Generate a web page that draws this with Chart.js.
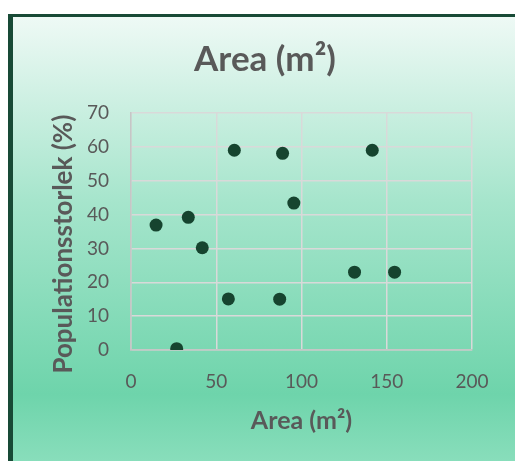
<!DOCTYPE html>
<html>
<head>
<meta charset="utf-8">
<script src="https://cdn.jsdelivr.net/npm/chart.js@4/dist/chart.umd.min.js"></script>
<style>
  html, body { margin: 0; padding: 0; width: 515px; height: 461px; overflow: hidden; background: #ffffff; }
  #frame {
    position: absolute; left: 8px; top: 14px; width: 540px; height: 460px;
    border-left: 5px solid #184a36; border-top: 3px solid #184a36;
    background: linear-gradient(to bottom, #eef9f5 0%, #a6e5cc 40%, #6ed4ab 82%, #8fe0bf 100%);
  }
  #c { position: absolute; left: 0; top: 0; }
</style>
</head>
<body>
<div id="frame"></div>
<canvas id="c" width="530" height="461"></canvas>
<script>
// Data
const areaValues = [14.7, 26.8, 33.6, 41.8, 57.1, 60.6, 87.2, 88.9, 95.5, 131.1, 141.5, 154.6];
const popValues  = [36.9, 0.4, 39.2, 30.2, 15.1, 59.0, 15.0, 58.1, 43.4, 23.0, 59.0, 23.0];
const chartTitle = 'Area (m\u00B2)';
const xTitle = 'Area (m\u00B2)';
const yTitle = 'Populationsstorlek (%)';

const points = areaValues.map((x, i) => ({ x: x, y: popValues[i] }));

const FONT = "Lato, 'Open Sans', 'Liberation Sans', sans-serif";
const TEXT = '#595959';

new Chart(document.getElementById('c'), {
  type: 'scatter',
  data: {
    datasets: [{
      data: points,
      yAxisID: 'y',
      backgroundColor: '#16442f',
      borderColor: '#16442f',
      pointRadius: 6.5,
      pointHoverRadius: 6.5,
      borderWidth: 0
    }]
  },
  options: {
    responsive: false,
    animation: false,
    layout: { padding: 0 },
    plugins: {
      legend: { display: false },
      tooltip: { enabled: false },
      title: {
        display: true,
        text: chartTitle,
        color: TEXT,
        font: { family: FONT, size: 35, weight: 'bold' },
        padding: { top: 39, bottom: 32 }
      }
    },
    scales: {
      x: {
        type: 'linear',
        min: 0, max: 200,
        ticks: { stepSize: 50, color: TEXT, padding: 20, font: { family: FONT, size: 19 } },
        grid: { color: '#d9d9d9', lineWidth: 1.5, drawTicks: false },
        border: { color: '#c6c6c6', width: 1.5 },
        title: {
          display: true, text: xTitle, color: TEXT,
          font: { family: FONT, size: 25, weight: 'bold' },
          padding: { top: 0, bottom: 25 }
        },
        afterFit: (s) => { s.height = 111; }
      },
      y: {
        type: 'linear',
        position: 'left',
        min: 0, max: 70,
        ticks: { stepSize: 10, color: TEXT, padding: 22, font: { family: FONT, size: 19 } },
        grid: { color: '#d9d9d9', lineWidth: 1.5, drawTicks: false },
        border: { color: '#c6c6c6', width: 1.5 },
        title: {
          display: true, text: yTitle + '    ', color: TEXT,
          font: { family: FONT, size: 26, weight: 'bold' },
          padding: { top: 48, bottom: 0 }
        },
        afterFit: (s) => { s.width = 131; }
      },
      yRightSpace: {
        type: 'linear',
        position: 'right',
        display: true,
        min: 0, max: 70,
        ticks: { display: false },
        grid: { display: false, drawTicks: false },
        border: { display: false },
        afterFit: (s) => { s.width = 58; }
      }
    }
  }
});
</script>
</body>
</html>
